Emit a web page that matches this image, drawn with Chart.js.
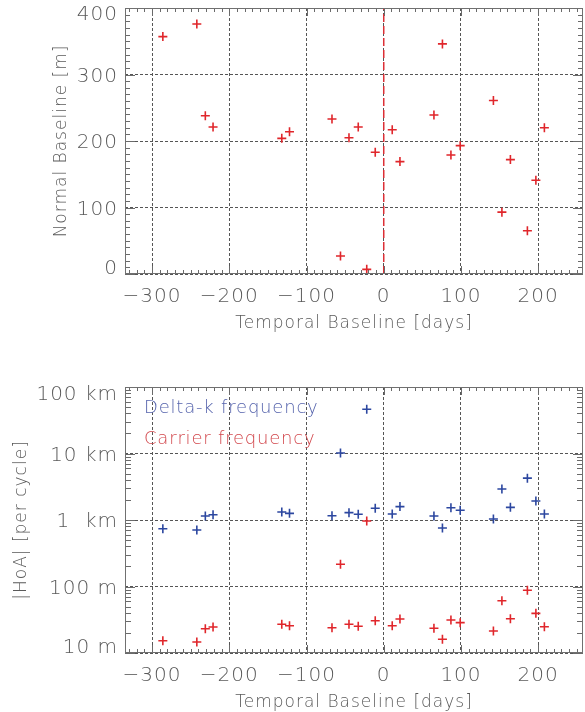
<!DOCTYPE html>
<html>
<head>
<meta charset="utf-8">
<script src="https://cdn.jsdelivr.net/npm/chart.js@4/dist/chart.umd.min.js"></script>
<style>
  html, body { margin: 0; padding: 0; background: #fff; }
  body { width: 585px; height: 712px; position: relative; overflow: hidden; }
  canvas { position: absolute; left: 0; }
  #topChart { top: 0; }
  #botChart { top: 370px; }
</style>
</head>
<body>
<canvas id="topChart" width="585" height="340"></canvas>
<canvas id="botChart" width="585" height="342"></canvas>
<script>
// acquisitions: temporal baseline (days) vs normal baseline (m)
const days     = [-286, -242, -231, -221, -132, -122, -67, -56, -45, -33, -22, -11, 11, 21, 65, 76, 87, 99, 142, 153, 164, 186, 197, 208];
const normalB  = [357, 376, 238, 221, 204, 214, 233, 27, 205, 221, 7, 183, 217, 169, 239, 346, 179, 193, 261, 93, 172, 65, 141, 220];
// height of ambiguity (m per cycle)
const deltaK   = [740, 708, 1150, 1200, 1320, 1260, 1160, 10200, 1290, 1220, 46200, 1500, 1230, 1590, 1150, 760, 1530, 1400, 1035, 2920, 1550, 4260, 1930, 1230];
const carrier  = [15.3, 14.6, 23.2, 24.6, 27, 25.7, 24, 216, 27, 25.2, 966, 30.6, 25.7, 32.5, 23.5, 16.1, 31.3, 28.6, 21.4, 61, 32.8, 87.7, 39.5, 24.8];

const xTicks    = [-300, -200, -100, 0, 100, 200];
const yTicksTop = [0, 100, 200, 300, 400];
const yTicksLog = [10, 100, 1000, 10000, 100000];
const yLogLabels = ['10 m', '100 m', '1  km', '10 km', '100 km'];
const legendNames = ['Delta-k frequency', 'Carrier frequency'];

const FONT = "'DejaVu Sans', sans-serif";
const TXT = '#5a5a5a';
const RED = '#e0262b';
const BLUE = '#2c47a0';
const TICKFONT = { family: FONT, size: 20, weight: '200' };
const TITLEFONT = { family: FONT, size: 17, weight: '200', lineHeight: 1 };

const pts = ys => days.map((d, i) => ({ x: d, y: ys[i] }));

// end labels are nudged inward like the original plot: a blank line on one side
// shifts the text by half the line height
function edgeLabel(text, value, ticks) {
  if (value === ticks[ticks.length - 1]) return ['', text];
  if (value === ticks[0]) return [text, ''];
  return text;
}
function edgeFont(ticks, lhTop, lhBottom) {
  return c => {
    const v = c.tick ? c.tick.value : null;
    if (v === ticks[ticks.length - 1]) return Object.assign({}, TICKFONT, { lineHeight: lhTop + 'px' });
    if (v === ticks[0]) return Object.assign({}, TICKFONT, { lineHeight: lhBottom + 'px' });
    return TICKFONT;
  };
}

// frame, inward minor ticks, and in-plot labels
const framePlugin = {
  id: 'frame',
  beforeDraw(chart) { chart.ctx.letterSpacing = '1px'; },
  afterDatasetsDraw(chart, args, opts) {
    const { ctx, chartArea: a, scales } = chart;
    const xs = scales.x, ys = scales.y;
    ctx.save();
    ctx.strokeStyle = '#6a6a6a';
    ctx.lineWidth = 1;
    ctx.beginPath();
    for (let v = Math.ceil(xs.min / 10) * 10; v <= xs.max; v += 10) {
      const px = Math.round(xs.getPixelForValue(v)) + 0.5;
      const len = v % 100 === 0 ? 8 : 4;
      ctx.moveTo(px, a.bottom); ctx.lineTo(px, a.bottom - len);
      ctx.moveTo(px, a.top); ctx.lineTo(px, a.top + len);
    }
    let yMinor = [];
    if (opts.log) {
      for (let dec = 10; dec < ys.max; dec *= 10)
        for (let k = 1; k < 10; k++) yMinor.push(dec * k);
    } else {
      for (let v = 0; v <= ys.max; v += 10) yMinor.push(v);
    }
    yMinor.forEach(v => {
      const py = Math.round(ys.getPixelForValue(v)) + 0.5;
      const major = opts.log ? yTicksLog.includes(v) : v % 100 === 0;
      const len = major ? 10 : (opts.log ? 6 : 5);
      ctx.moveTo(a.left, py); ctx.lineTo(a.left + len, py);
      ctx.moveTo(a.right, py); ctx.lineTo(a.right - len, py);
    });
    ctx.stroke();
    ctx.strokeStyle = '#707070';
    ctx.strokeRect(a.left + 0.5, a.top + 0.5, a.right - a.left - 1, a.bottom - a.top - 1);
    if (opts.labels) {
      ctx.font = '200 18px ' + FONT;
      ctx.letterSpacing = '0.8px';
      ctx.textBaseline = 'middle';
      ctx.textAlign = 'left';
      opts.labels.forEach((l, i) => {
        ctx.fillStyle = l.color;
        ctx.fillText(l.text, a.left + 19, a.top + 21 + i * 31);
      });
    }
    ctx.restore();
  }
};

function xAxis(h, titleBottom) {
  return {
    type: 'linear', min: -335, max: 258,
    afterBuildTicks: s => { s.ticks = xTicks.map(v => ({ value: v })); },
    afterFit: s => { s.height = h; s.paddingLeft = 0; s.paddingRight = 0; },
    grid: { color: '#555', lineWidth: 1, drawTicks: false },
    border: { display: false, dash: [3, 2] },
    ticks: {
      color: TXT, padding: 11, maxRotation: 0, font: TICKFONT,
      callback: v => String(v).replace('-', '\u2212')
    },
    title: {
      display: true, text: 'Temporal Baseline [days]', color: TXT,
      font: TITLEFONT, padding: { top: 0, bottom: titleBottom }
    }
  };
}

function yAxis(extra, titleText, titleLeft) {
  return Object.assign({
    afterFit: s => { s.width = 125; s.paddingTop = 0; s.paddingBottom = 0; },
    grid: { color: '#555', lineWidth: 1, drawTicks: false },
    border: { display: false, dash: [3, 2] },
    title: { display: true, text: titleText, color: TXT, font: TITLEFONT, padding: { top: titleLeft, bottom: 0 } }
  }, extra);
}

const topChart = new Chart(document.getElementById('topChart'), {
  type: 'scatter',
  data: {
    datasets: [
      { data: pts(normalB), pointStyle: 'cross', pointRadius: 4.5, borderColor: RED, borderWidth: 1.6 },
      { data: [{ x: 0, y: 0 }, { x: 0, y: 400 }], showLine: true, pointRadius: 0,
        borderColor: '#dc2f35', borderWidth: 1.5, borderDash: [8, 4] }
    ]
  },
  options: {
    responsive: false, animation: false,
    layout: { autoPadding: false, padding: { top: 8, right: 2, left: 0, bottom: 0 } },
    plugins: { legend: { display: false }, tooltip: { enabled: false }, frame: { log: false } },
    scales: {
      x: xAxis(66, 8),
      y: yAxis({
        type: 'linear', min: 0, max: 400,
        afterBuildTicks: s => { s.ticks = yTicksTop.map(v => ({ value: v })); },
        ticks: {
          color: TXT, padding: 7, labelOffset: 2, font: edgeFont(yTicksTop, 10, 15),
          callback: v => edgeLabel(String(v), v, yTicksTop)
        }
      }, 'Normal Baseline [m]', 53)
    }
  },
  plugins: [framePlugin]
});

const botChart = new Chart(document.getElementById('botChart'), {
  type: 'scatter',
  data: {
    datasets: [
      { label: legendNames[0], data: pts(deltaK), pointStyle: 'cross', pointRadius: 4.5, borderColor: BLUE, borderWidth: 1.6 },
      { label: legendNames[1], data: pts(carrier), pointStyle: 'cross', pointRadius: 4.5, borderColor: RED, borderWidth: 1.6 }
    ]
  },
  options: {
    responsive: false, animation: false,
    layout: { autoPadding: false, padding: { top: 17, right: 2, left: 0, bottom: 0 } },
    plugins: { legend: { display: false }, tooltip: { enabled: false },
      frame: { log: true, labels: [
        { text: legendNames[0], color: '#5563ac' },
        { text: legendNames[1], color: '#d2474c' }
      ] } },
    scales: {
      x: xAxis(59, 1),
      y: yAxis({
        type: 'logarithmic', min: 10, max: 100000,
        afterBuildTicks: s => { s.ticks = yTicksLog.map(v => ({ value: v })); },
        ticks: {
          color: TXT, padding: 7, labelOffset: 2, font: edgeFont(yTicksLog, 12, 14),
          callback: v => edgeLabel(yLogLabels[yTicksLog.indexOf(v)] ?? '', v, yTicksLog)
        }
      }, '|HoA| [per cycle]', 13)
    }
  },
  plugins: [framePlugin]
});
</script>
</body>
</html>
